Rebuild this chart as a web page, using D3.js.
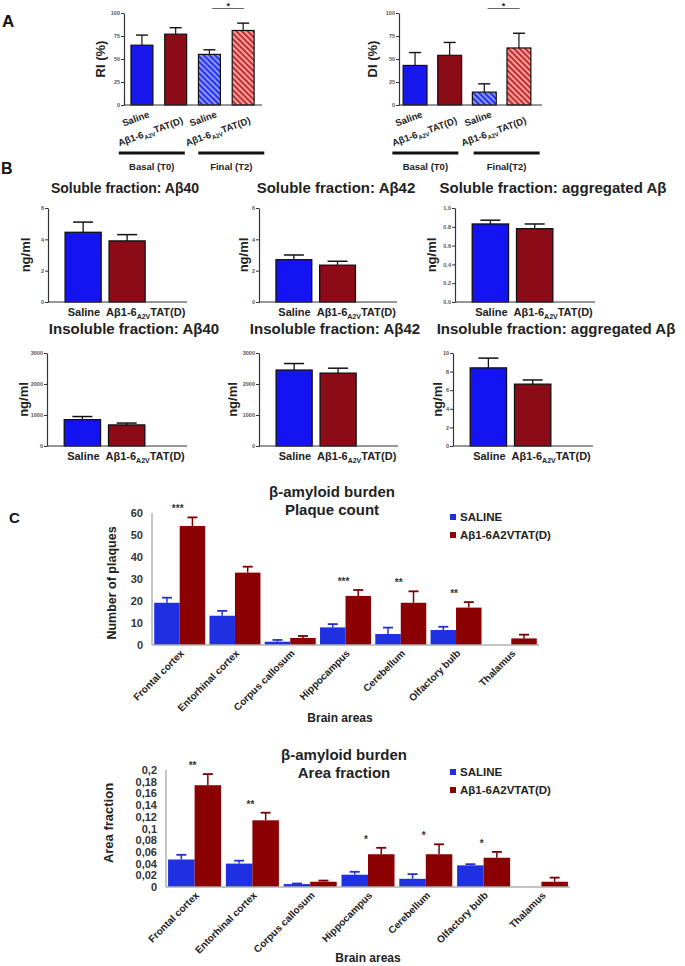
<!DOCTYPE html>
<html><head><meta charset="utf-8">
<script src="https://cdn.jsdelivr.net/npm/d3@7"></script>
<style>
body{margin:0;background:#fff;}
svg{display:block;font-family:"Liberation Sans", Arial, sans-serif;}
</style></head><body>
<svg id="fig" width="685" height="966"></svg>
<script>
// ---------------- DATA ----------------
const groups = ["Saline", "Aβ1-6A2VTAT(D)"];
// Panel A
const riMeans = [65, 77, 55, 81];
const riSem = [11, 7, 5, 8];
const diMeans = [43, 54, 14, 62];
const diSem = [14, 14, 9, 16];
const aTicks = [0, 25, 50, 75, 100];
const riPhases = ["Basal (T0)", "Final (T2)"];
const diPhases = ["Basal (T0)", "Final(T2)"];
// Panel B
const bTitles = ["Soluble fraction: Aβ40", "Soluble fraction: Aβ42", "Soluble fraction: aggregated Aβ",
                 "Insoluble fraction: Aβ40", "Insoluble fraction: Aβ42", "Insoluble fraction: aggregated Aβ"];
const solAb40 = [4.45, 3.9];      const solAb40Sem = [0.65, 0.4];
const solAb42 = [2.7, 2.35];      const solAb42Sem = [0.3, 0.25];
const solAgg = [0.83, 0.78];      const solAggSem = [0.04, 0.05];
const insAb40 = [850, 680];       const insAb40Sem = [100, 60];
const insAb42 = [2450, 2350];     const insAb42Sem = [210, 160];
const insAgg = [8.4, 6.65];       const insAggSem = [1.05, 0.45];
const ticksNg6 = [0, 2, 4, 6];
const ticksFrac = [0, 0.2, 0.4, 0.6, 0.8, 1.0];
const ticks3000 = [0, 1000, 2000, 3000];
const ticks10 = [0, 2, 4, 6, 8, 10];
// Panel C
const regions = ["Frontal cortex", "Entorhinal cortex", "Corpus callosum", "Hippocampus", "Cerebellum", "Olfactory bulb", "Thalamus"];
const seriesNames = ["SALINE", "Aβ1-6A2VTAT(D)"];
const plaqueSaline = [19.2, 13.3, 1.5, 8.0, 5.0, 6.8, 0];
const plaqueSalineSem = [2.3, 2.2, 0.8, 1.5, 2.9, 1.5, 0];
const plaqueTreated = [54.1, 32.9, 3.2, 22.3, 19.2, 17.0, 3.0];
const plaqueTreatedSem = [3.9, 2.7, 0.9, 2.7, 5.2, 2.5, 1.7];
const plaqueStars = ["***", "", "", "***", "**", "**", ""];
const plaqueTicks = [0, 10, 20, 30, 40, 50, 60];
const areaSaline = [0.047, 0.040, 0.005, 0.021, 0.014, 0.037, 0];
const areaSalineSem = [0.008, 0.005, 0.001, 0.005, 0.008, 0.002, 0];
const areaTreated = [0.174, 0.114, 0.009, 0.056, 0.056, 0.050, 0.009];
const areaTreatedSem = [0.019, 0.013, 0.002, 0.011, 0.017, 0.010, 0.007];
const areaStars = ["**", "**", "", "*", "*", "*", ""];
const areaTicks = [0, 0.02, 0.04, 0.06, 0.08, 0.1, 0.12, 0.14, 0.16, 0.18, 0.2];
const areaTickLabels = ["0", "0,02", "0,04", "0,06", "0,08", "0,1", "0,12", "0,14", "0,16", "0,18", "0,2"];

// ---------------- DRAWING ----------------
const svg = d3.select("#fig");
const defs = svg.append("defs");
function hatch(id, bg, fg) {
  const p = defs.append("pattern").attr("id", id).attr("patternUnits", "userSpaceOnUse")
    .attr("width", 4).attr("height", 4).attr("patternTransform", "rotate(-45)");
  p.append("rect").attr("width", 4).attr("height", 4).attr("fill", bg);
  p.append("rect").attr("width", 2).attr("height", 4).attr("fill", fg);
}
hatch("hatchBlue", "#8d96ff", "#2434f0");
hatch("hatchRed", "#f2a2a2", "#c72c2c");

const INK = "#222";
function labelText(sel, label, subSize, shift) {
  const idx = label.indexOf("A2V");
  if (idx < 0) { sel.text(label); return; }
  sel.append("tspan").text(label.slice(0, idx));
  sel.append("tspan").attr("font-size", subSize).attr("dy", shift).text("A2V");
  sel.append("tspan").attr("dy", -shift).text(label.slice(idx + 3));
}
function styleSmallAxis(ax) {
  ax.select(".domain").attr("stroke", "#333").attr("stroke-width", 1.2);
  ax.selectAll(".tick line").attr("stroke", "#333");
  ax.selectAll(".tick text").attr("font-size", 5.5).attr("font-weight", "bold")
    .attr("fill", "#555").attr("font-family", '"Liberation Sans", Arial, sans-serif');
}

// Panel letters
svg.append("text").attr("x", 2).attr("y", 27).attr("font-size", 17).attr("font-weight", "bold").attr("fill", "#111").text("A");
svg.append("text").attr("x", 1).attr("y", 174).attr("font-size", 16).attr("font-weight", "bold").attr("fill", "#111").text("B");
svg.append("text").attr("x", 9).attr("y", 523).attr("font-size", 15).attr("font-weight", "bold").attr("fill", "#111").text("C");

// ----- Panel A -----
function drawA(o) {
  const g = svg.append("g");
  const x = d3.scaleBand().domain(d3.range(o.means.length)).range([o.x0, o.x1])
    .paddingInner(o.pi).paddingOuter(o.po).align(o.al);
  const y = d3.scaleLinear().domain([0, 100]).range([105, 13]);
  const bw = x.bandwidth();
  const fills = ["#1717ee", "#8b0b16", "url(#hatchBlue)", "url(#hatchRed)"];
  o.means.forEach((m, i) => {
    const cx = x(i) + bw / 2;
    g.append("line").attr("x1", cx).attr("x2", cx).attr("y1", y(m)).attr("y2", y(m + o.sem[i])).attr("stroke", "#111").attr("stroke-width", 1.2);
    g.append("line").attr("x1", cx - 6).attr("x2", cx + 6).attr("y1", y(m + o.sem[i])).attr("y2", y(m + o.sem[i])).attr("stroke", "#111").attr("stroke-width", 1.4);
    g.append("rect").attr("x", x(i)).attr("y", y(m)).attr("width", bw).attr("height", y(0) - y(m))
      .attr("fill", fills[i]).attr("stroke", "#111").attr("stroke-width", 1.2);
    const isSal = i % 2 === 0;
    const t = g.append("text").attr("transform", `translate(${cx + 8},${y(0) + (isSal ? 12 : 18)}) rotate(-20)`)
      .attr("text-anchor", "end").attr("font-size", 9.5).attr("font-weight", "bold").attr("fill", INK);
    labelText(t, groups[i % 2], 6, 2.5);
  });
  const ax = g.append("g").attr("transform", `translate(${o.x0},0)`)
    .call(d3.axisLeft(y).tickValues(aTicks).tickSize(3).tickSizeOuter(0).tickPadding(1));
  styleSmallAxis(ax);
  g.append("line").attr("x1", o.x0).attr("x2", o.x1).attr("y1", y(0)).attr("y2", y(0)).attr("stroke", "#333").attr("stroke-width", 1.2);
  g.append("text").attr("transform", `translate(${o.ylx},${(y(0) + y(100)) / 2}) rotate(-90)`)
    .attr("text-anchor", "middle").attr("dominant-baseline", "central").attr("font-size", 13).attr("font-weight", "bold").attr("fill", INK).text(o.ylabel);
  [0, 1].forEach(k => {
    const c = (x(2 * k) + x(2 * k + 1) + bw) / 2 + (k === 0 ? -7 : 5);
    g.append("line").attr("x1", c - 33).attr("x2", c + 33).attr("y1", 153).attr("y2", 153).attr("stroke", "#111").attr("stroke-width", 3);
    g.append("text").attr("x", c).attr("y", 170).attr("text-anchor", "middle").attr("font-size", 9.5).attr("font-weight", "bold").attr("fill", INK).text(o.phases[k]);
  });
  const sc = (x(2) + x(3) + bw) / 2 + 2;
  g.append("line").attr("x1", sc - 16).attr("x2", sc + 16).attr("y1", 8.5).attr("y2", 8.5).attr("stroke", "#666").attr("stroke-width", 1.2);
  g.append("text").attr("x", sc).attr("y", 9).attr("text-anchor", "middle").attr("font-size", 9).attr("font-weight", "bold").attr("fill", INK).text("*");
}
drawA({means: riMeans, sem: riSem, x0: 124, x1: 262, pi: 0.35, po: 0.22, al: 0.47, ylabel: "RI (%)", ylx: 100, phases: riPhases});
drawA({means: diMeans, sem: diSem, x0: 399, x1: 542, pi: 0.31, po: 0.22, al: 0.27, ylabel: "DI (%)", ylx: 372, phases: diPhases});

// ----- Panel B -----
function drawB(o) {
  const g = svg.append("g");
  const x = d3.scaleBand().domain(d3.range(o.means.length)).range([o.x0, o.x1]).paddingInner(0.18).paddingOuter(0.67).align(0.29);
  const y = d3.scaleLinear().domain([0, o.max]).range([o.bot, o.top]);
  const bw = x.bandwidth();
  const fills = ["#1414f2", "#8b0b16"];
  o.means.forEach((m, i) => {
    const cx = x(i) + bw / 2;
    const et = y(m + o.sem[i]);
    g.append("line").attr("x1", cx).attr("x2", cx).attr("y1", y(m)).attr("y2", et).attr("stroke", "#111").attr("stroke-width", 1.3);
    g.append("line").attr("x1", cx - 10).attr("x2", cx + 10).attr("y1", et).attr("y2", et).attr("stroke", "#111").attr("stroke-width", 1.5);
    g.append("rect").attr("x", x(i)).attr("y", y(m)).attr("width", bw).attr("height", y(0) - y(m))
      .attr("fill", fills[i]).attr("stroke", "#111").attr("stroke-width", 1.3);
  });
  const mid = (x(0) + bw + x(1)) / 2;
  g.append("text").attr("x", mid - 5).attr("y", o.bot + 14).attr("text-anchor", "end").attr("font-size", 11).attr("font-weight", "bold").attr("fill", INK).text(groups[0]);
  const t = g.append("text").attr("x", mid + 1).attr("y", o.bot + 14).attr("text-anchor", "start").attr("font-size", 11).attr("font-weight", "bold").attr("fill", INK);
  labelText(t, groups[1], 7, 3);
  const ax = g.append("g").attr("transform", `translate(${o.x0},0)`)
    .call(d3.axisLeft(y).tickValues(o.ticks).tickFormat(d3.format(o.fmt)).tickSize(3).tickSizeOuter(0).tickPadding(1));
  styleSmallAxis(ax);
  g.append("line").attr("x1", o.x0).attr("x2", o.x1).attr("y1", y(0)).attr("y2", y(0)).attr("stroke", "#333").attr("stroke-width", 1.2);
  g.append("text").attr("transform", `translate(${o.ylx},${(o.top + o.bot) / 2}) rotate(-90)`)
    .attr("text-anchor", "middle").attr("dominant-baseline", "central").attr("font-size", 13).attr("font-weight", "bold").attr("fill", INK).text("ng/ml");
  g.append("text").attr("x", o.tx).attr("y", o.ty).attr("text-anchor", "middle").attr("font-size", o.ts).attr("font-weight", "bold").attr("fill", INK).text(o.title);
}
drawB({title: bTitles[0], means: solAb40, sem: solAb40Sem, max: 6, ticks: ticksNg6, fmt: "d", x0: 48, x1: 187, top: 208, bot: 302, ylx: 25, tx: 125, ty: 193, ts: 14});
drawB({title: bTitles[1], means: solAb42, sem: solAb42Sem, max: 6, ticks: ticksNg6, fmt: "d", x0: 259, x1: 397, top: 208, bot: 302, ylx: 243, tx: 336, ty: 193, ts: 15});
drawB({title: bTitles[2], means: solAgg, sem: solAggSem, max: 1, ticks: ticksFrac, fmt: ".1f", x0: 455, x1: 595, top: 208, bot: 302, ylx: 431, tx: 553, ty: 193, ts: 15});
drawB({title: bTitles[3], means: insAb40, sem: insAb40Sem, max: 3000, ticks: ticks3000, fmt: "d", x0: 47, x1: 187, top: 353, bot: 446, ylx: 23, tx: 134, ty: 334, ts: 15});
drawB({title: bTitles[4], means: insAb42, sem: insAb42Sem, max: 3000, ticks: ticks3000, fmt: "d", x0: 259, x1: 398, top: 353, bot: 446, ylx: 232, tx: 335, ty: 334, ts: 15});
drawB({title: bTitles[5], means: insAgg, sem: insAggSem, max: 10, ticks: ticks10, fmt: "d", x0: 453, x1: 593, top: 353, bot: 446, ylx: 437, tx: 556, ty: 334, ts: 15});

// ----- Panel C -----
function drawC(o) {
  const g = svg.append("g");
  const x0 = d3.scaleBand().domain(regions).range([o.x0, o.x1]).paddingInner(o.pi).paddingOuter(o.po);
  const x1 = d3.scaleBand().domain([0, 1]).range([0, x0.bandwidth()]);
  const y = d3.scaleLinear().domain([0, o.max]).range([o.bot, o.top]);
  const cols = ["#1f2fe2", "#8b0000"];
  const ecols = ["#2233cc", "#7a0000"];
  const series = [[o.sal, o.salSem], [o.trt, o.trtSem]];
  regions.forEach((r, i) => {
    let maxTop = o.bot;
    series.forEach(([vals, sems], s) => {
      const v = vals[i];
      if (v <= 0) return;
      const bx = x0(r) + x1(s);
      const bw = x1.bandwidth();
      g.append("rect").attr("x", bx).attr("y", y(v)).attr("width", bw).attr("height", o.bot - y(v)).attr("fill", cols[s]);
      const cx = bx + bw / 2, et = y(v + sems[i]);
      maxTop = Math.min(maxTop, et);
      g.append("line").attr("x1", cx).attr("x2", cx).attr("y1", y(v)).attr("y2", et).attr("stroke", ecols[s]).attr("stroke-width", 1.5);
      g.append("line").attr("x1", cx - 5).attr("x2", cx + 5).attr("y1", et).attr("y2", et).attr("stroke", ecols[s]).attr("stroke-width", 1.8);
    });
    if (o.stars[i]) {
      g.append("text").attr("x", x0(r) + x0.bandwidth() / 2 - 2).attr("y", maxTop - 5).attr("text-anchor", "middle")
        .attr("font-size", 10).attr("font-weight", "bold").attr("fill", "#333").text(o.stars[i]);
    }
    g.append("text").attr("transform", `translate(${x0(r) + x0.bandwidth() / 2 + 5},${o.bot + 9}) rotate(-45)`)
      .attr("text-anchor", "end").attr("font-size", 10).attr("font-weight", "bold").attr("fill", INK).text(r);
  });
  g.append("line").attr("x1", o.x0).attr("x2", o.x0).attr("y1", o.bot).attr("y2", y(o.max)).attr("stroke", "#b0b0b0").attr("stroke-width", 1.5);
  g.append("line").attr("x1", o.x0).attr("x2", o.x1).attr("y1", o.bot).attr("y2", o.bot).attr("stroke", "#b0b0b0").attr("stroke-width", 1.5);
  o.ticks.forEach((v, k) => {
    g.append("text").attr("x", o.x0 - 9).attr("y", y(v)).attr("text-anchor", "end").attr("dominant-baseline", "central")
      .attr("font-size", 11).attr("font-weight", "bold").attr("fill", "#333").text(o.tickLabels[k]);
  });
  g.append("text").attr("transform", `translate(${o.ylx},${o.yly}) rotate(-90)`).attr("text-anchor", "middle").attr("dominant-baseline", "central")
    .attr("font-size", o.yls).attr("font-weight", "bold").attr("fill", INK).text(o.ylabel);
  o.titles.forEach((t, k) => {
    g.append("text").attr("x", o.tcx).attr("y", o.ty + k * 18).attr("text-anchor", "middle").attr("font-size", 15).attr("font-weight", "bold").attr("fill", INK).text(t);
  });
  seriesNames.forEach((n, s) => {
    const ly = o.ly + s * 18;
    g.append("rect").attr("x", 450).attr("y", ly - 3).attr("width", 6).attr("height", 6).attr("fill", cols[s]);
    g.append("text").attr("x", 460).attr("y", ly).attr("dominant-baseline", "central").attr("font-size", 11.5).attr("font-weight", "bold").attr("fill", INK).text(n);
  });
  g.append("text").attr("x", o.bax).attr("y", o.bay).attr("text-anchor", "middle").attr("font-size", 12).attr("font-weight", "bold").attr("fill", INK).text("Brain areas");
}
drawC({sal: plaqueSaline, salSem: plaqueSalineSem, trt: plaqueTreated, trtSem: plaqueTreatedSem, stars: plaqueStars,
  max: 60, ticks: plaqueTicks, tickLabels: plaqueTicks.map(String), x0: 152, x1: 539, pi: 0.078, po: 0.04, top: 513, bot: 645,
  ylabel: "Number of plaques", ylx: 112, yly: 583, yls: 12.5, titles: ["β-amyloid burden", "Plaque count"], tcx: 332, ty: 497,
  ly: 517, bax: 340, bay: 722});
drawC({sal: areaSaline, salSem: areaSalineSem, trt: areaTreated, trtSem: areaTreatedSem, stars: areaStars,
  max: 0.2, ticks: areaTicks, tickLabels: areaTickLabels, x0: 166, x1: 570, pi: 0.083, po: 0.036, top: 770, bot: 887,
  ylabel: "Area fraction", ylx: 108, yly: 823, yls: 13, titles: ["β-amyloid burden", "Area fraction"], tcx: 344, ty: 760,
  ly: 772, bax: 368, bay: 962});
</script>
</body></html>
